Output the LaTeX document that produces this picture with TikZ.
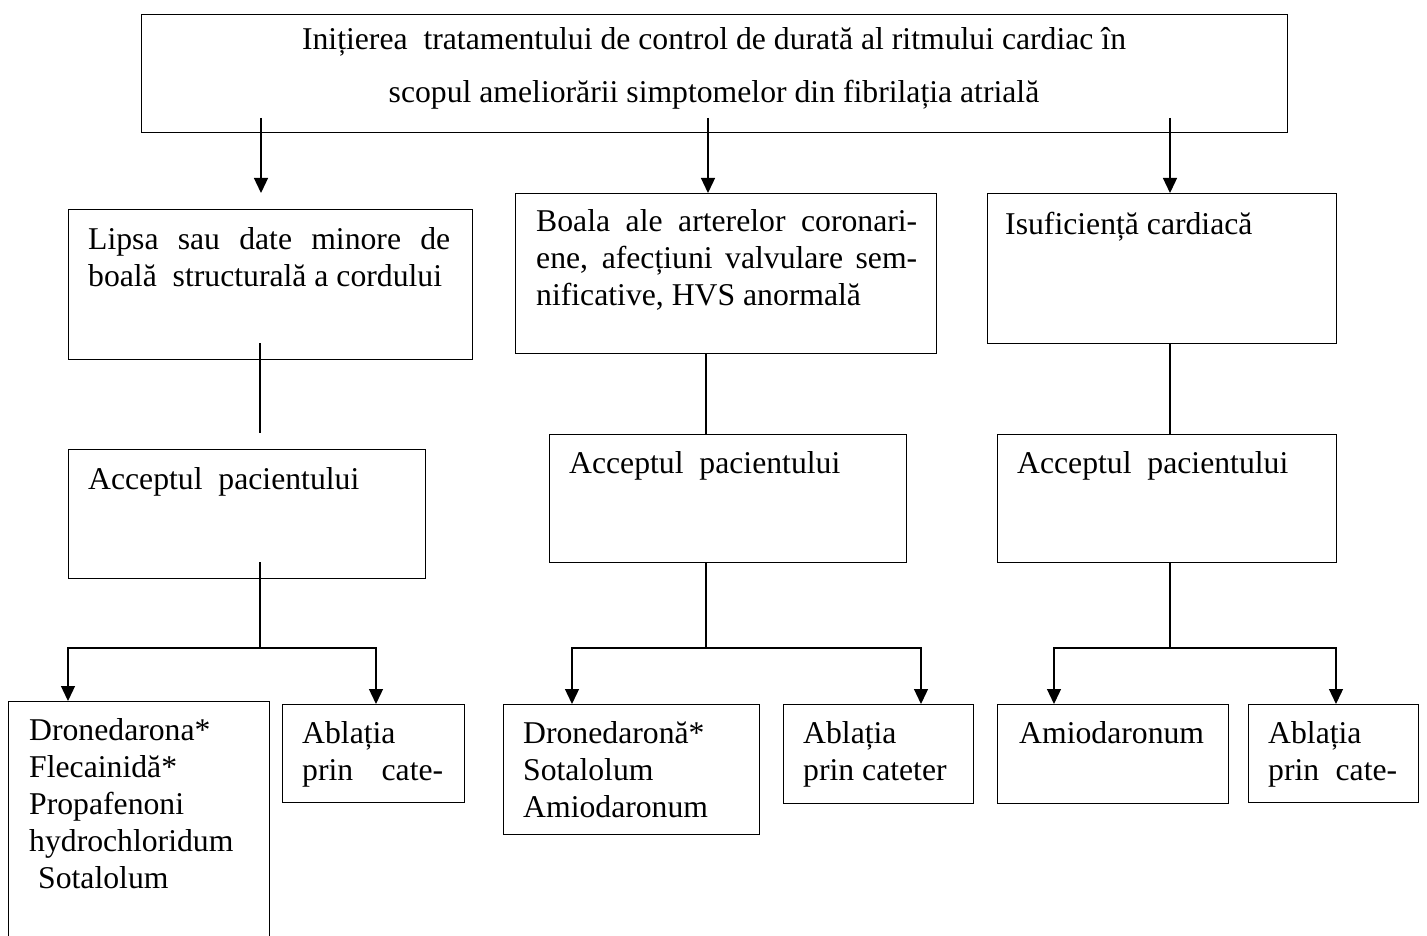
\documentclass[tikz,border=0pt]{standalone}
\usepackage{fontspec}
\setmainfont{Liberation Serif}
\usetikzlibrary{arrows.meta}
\begin{document}
\begin{tikzpicture}[x=1pt,y=-1pt,
  box/.style={draw, line width=1.1pt, inner sep=0pt, anchor=north west},
  txt/.style={anchor=base west, inner sep=0pt, font=\fontsize{31.7}{37}\selectfont},
  conn/.style={line width=1.3pt},
  arr/.style={conn, -{Triangle[length=15pt,width=14pt]}}]
\useasboundingbox (0,0) rectangle (1427,936);
\fill[white] (0,0) rectangle (1427,936);
\clip (0,0) rectangle (1427,936);

% boxes
\node[box, minimum width=1146pt, minimum height=118pt] (top)   at (141,14)  {};
\node[box, minimum width=404pt,  minimum height=150pt] (lipsa) at (68,209)  {};
\node[box, minimum width=421pt,  minimum height=160pt] (boala) at (515,193) {};
\node[box, minimum width=349pt,  minimum height=150pt] (isuf)  at (987,193) {};
\node[box, minimum width=357pt,  minimum height=129pt] (acc1)  at (68,449)  {};
\node[box, minimum width=357pt,  minimum height=128pt] (acc2)  at (549,434) {};
\node[box, minimum width=339pt,  minimum height=128pt] (acc3)  at (997,434) {};
\node[box, minimum width=261pt,  minimum height=259pt] (dron1) at (8,701)   {};
\node[box, minimum width=182pt,  minimum height=98pt]  (ablL)  at (282,704) {};
\node[box, minimum width=256pt,  minimum height=130pt] (dron2) at (503,704) {};
\node[box, minimum width=190pt,  minimum height=99pt]  (abl2)  at (783,704) {};
\node[box, minimum width=231pt,  minimum height=99pt]  (amio)  at (997,704) {};
\node[box, minimum width=170pt,  minimum height=98pt]  (abl3)  at (1248,704) {};

% texts
\node[txt, anchor=base, font=\fontsize{31.7}{53}\selectfont] (ttop) at (714,50)
  {\parbox[t]{1120pt}{\centering Inițierea\ \ tratamentului de control de durată al ritmului cardiac în\\ scopul ameliorării simptomelor din fibrilația atrială}};
\node[txt] (tlipsa) at (88,249)
  {\parbox[t]{380pt}{\makebox[362pt][s]{Lipsa sau date minore de}\\ boală\ \ structurală a cordului}};
\node[txt] (tboala) at (536,232)
  {\parbox[t]{390pt}{\makebox[381pt][s]{Boala ale arterelor coronari-}\\ \makebox[381pt][s]{ene, afecțiuni valvulare sem-}\\ nificative, HVS anormală}};
\node[txt] (tisuf) at (1005,235) {Isuficiență cardiacă};
\node[txt] (tacc1) at (88,489)  {Acceptul\ \ pacientului};
\node[txt] (tacc2) at (569,473) {Acceptul\ \ pacientului};
\node[txt] (tacc3) at (1017,473) {Acceptul\ \ pacientului};
\node[txt] (tdron1) at (29,740)
  {\parbox[t]{240pt}{Dronedarona*\\ Flecainidă*\\ Propafenoni\\ hydrochloridum\\ \hspace*{9pt}Sotalolum}};
\node[txt] (tablL) at (302,743)
  {\parbox[t]{160pt}{Ablația\\ \makebox[141pt][s]{prin cate-}}};
\node[txt] (tdron2) at (523,743)
  {\parbox[t]{230pt}{Dronedaronă*\\ Sotalolum\\ Amiodaronum}};
\node[txt] (tabl2) at (803,743)
  {\parbox[t]{170pt}{Ablația\\ prin cateter}};
\node[txt] (tamio) at (1019,743) {Amiodaronum};
\node[txt] (tabl3) at (1268,743)
  {\parbox[t]{150pt}{Ablația\\ \makebox[129pt][s]{prin cate-}}};

% connectors from top
\coordinate (a1s) at (261,118);
\coordinate (a1e) at (261,193);
\coordinate (a2s) at (708,118);
\coordinate (a3s) at (1170,118);
\draw[arr] (a1s) -- (a1e);
\draw[arr] (a2s) -- (a2s |- boala.north);
\draw[arr] (a3s) -- (a3s |- isuf.north);

% to acceptul boxes
\coordinate (l1s) at (260,343);
\coordinate (l1e) at (260,433);
\coordinate (c2) at (706,0);
\coordinate (c3) at (1170,0);
\draw[conn] (l1s) -- (l1e);
\draw[conn] (boala.south -| c2) -- (acc2.north -| c2);
\draw[conn] (isuf.south -| c3) -- (acc3.north -| c3);

% branches left
\coordinate (b1) at (260,562);
\coordinate (j1) at (260,648);
\coordinate (j1l) at (68,648);
\coordinate (j1r) at (376,648);
\draw[conn] (b1) -- (j1);
\draw[arr] (j1) -- (j1l) -- (j1l |- dron1.north);
\draw[arr] (j1) -- (j1r) -- (j1r |- ablL.north);

% branches middle
\coordinate (j2) at (706,648);
\coordinate (j2l) at (572,648);
\coordinate (j2r) at (921,648);
\draw[conn] (acc2.south -| c2) -- (j2);
\draw[arr] (j2) -- (j2l) -- (j2l |- dron2.north);
\draw[arr] (j2) -- (j2r) -- (j2r |- abl2.north);

% branches right
\coordinate (j3) at (1170,648);
\coordinate (j3l) at (1054,648);
\coordinate (j3r) at (1336,648);
\draw[conn] (acc3.south -| c3) -- (j3);
\draw[arr] (j3) -- (j3l) -- (j3l |- amio.north);
\draw[arr] (j3) -- (j3r) -- (j3r |- abl3.north);
\end{tikzpicture}
\end{document}
